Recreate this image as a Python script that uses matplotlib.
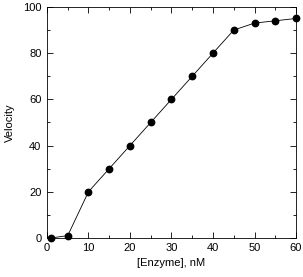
import matplotlib
matplotlib.use("Agg")
import matplotlib.pyplot as plt
from matplotlib.ticker import MultipleLocator

enzyme = [1, 5, 10, 15, 20, 25, 30, 35, 40, 45, 50, 55, 60]
velocity = [0, 1, 20, 30, 40, 50, 60, 70, 80, 90, 93, 94, 95]

plt.rcParams['font.family'] = ['Liberation Sans', 'DejaVu Sans']
plt.rcParams['font.size'] = 8

fig = plt.figure(figsize=(3.03, 2.77), dpi=100)
ax = fig.add_axes([0.155, 0.141, 0.822, 0.834])

ax.plot(enzyme, velocity, color="black", linewidth=0.6, marker="o",
        markersize=4.6, markerfacecolor="black", zorder=3, clip_on=False)

ax.set_xlim(0, 60)
ax.set_ylim(0, 100)
ax.xaxis.set_major_locator(MultipleLocator(10))
ax.xaxis.set_minor_locator(MultipleLocator(5))
ax.yaxis.set_major_locator(MultipleLocator(20))
ax.yaxis.set_minor_locator(MultipleLocator(10))
ax.tick_params(which="both", direction="in", top=True, right=True, width=0.6)
ax.tick_params(which="major", length=4, pad=4)
ax.tick_params(which="minor", length=2.5)
for s in ax.spines.values():
    s.set_linewidth(0.6)

ax.set_xlabel("[Enzyme], nM", labelpad=3)
ax.set_ylabel("Velocity", labelpad=6)

fig.savefig("out.png", dpi=100)
